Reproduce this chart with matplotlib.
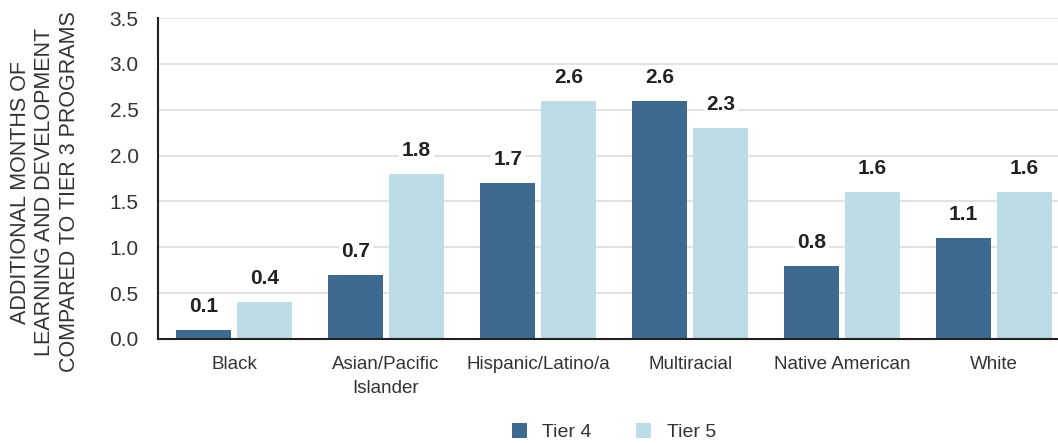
import matplotlib
matplotlib.use("Agg")
import matplotlib.pyplot as plt
import numpy as np

categories = ["Black", "Asian/Pacific\nIslander", "Hispanic/Latino/a", "Multiracial", "Native American", "White"]
tier4 = [0.1, 0.7, 1.7, 2.6, 0.8, 1.1]
tier5 = [0.4, 1.8, 2.6, 2.3, 1.6, 1.6]
yticks = [0.0, 0.5, 1.0, 1.5, 2.0, 2.5, 3.0, 3.5]

c4 = "#3e6a8f"
c5 = "#bcdde6"
txt = "#333333"

plt.rcParams['font.family'] = ['Liberation Sans', 'DejaVu Sans']

fig = plt.figure(figsize=(10.58, 4.43), dpi=100)
ax = fig.add_axes([158/1058, 1-339/443, 900/1058, 321/443])

x = np.arange(len(categories))
w = 0.362
off = 0.2
b4 = ax.bar(x - off, tier4, w, color=c4, label="Tier 4", zorder=2)
b5 = ax.bar(x + off, tier5, w, color=c5, label="Tier 5", zorder=2)

for bars, vals in ((b4, tier4), (b5, tier5)):
    for r, v in zip(bars, vals):
        ax.annotate(f"{v:.1f}", (r.get_x() + r.get_width()/2, v), xytext=(0, 10),
                    textcoords="offset points", ha="center", va="bottom",
                    fontsize=15, fontweight="semibold", color="#222222", zorder=4,
                    bbox=dict(boxstyle="square,pad=0.12", fc="white", ec="none"))

ax.set_xlim(-0.5, 5.42)
ax.set_ylim(0, 3.5)
ax.set_yticks(yticks)
ax.set_yticklabels([f"{t:.1f}" for t in yticks], fontsize=15, color=txt)
ax.set_xticks(x)
ax.set_xticklabels(categories, fontsize=13.5, color=txt, linespacing=1.55)
ax.tick_params(axis="x", length=0, pad=12)
ax.tick_params(axis="y", length=0, pad=14)
ax.yaxis.grid(True, color="#dddddd", linewidth=1.2, zorder=0)
ax.set_axisbelow(True)
for s in ("top", "right"):
    ax.spines[s].set_visible(False)
ax.spines["left"].set_color("#222222")
ax.spines["left"].set_linewidth(1.5)
ax.spines["bottom"].set_color("#222222")
ax.spines["bottom"].set_linewidth(1.5)

ax.set_ylabel("ADDITIONAL MONTHS OF\nLEARNING AND DEVELOPMENT\nCOMPARED TO TIER 3 PROGRAMS",
              fontsize=15.5, color=txt, linespacing=1.2, va="center", ha="center")
ax.yaxis.set_label_coords((45-158)/900, (339-192)/321)

leg = fig.legend(handles=[b4, b5], loc="lower center", bbox_to_anchor=(614/1058, -0.035),
                 ncol=2, frameon=False, fontsize=14, handlelength=0.75, handleheight=0.85,
                 columnspacing=2.3, handletextpad=0.8)
for t in leg.get_texts():
    t.set_color(txt)

fig.savefig("out.png", dpi=100)
